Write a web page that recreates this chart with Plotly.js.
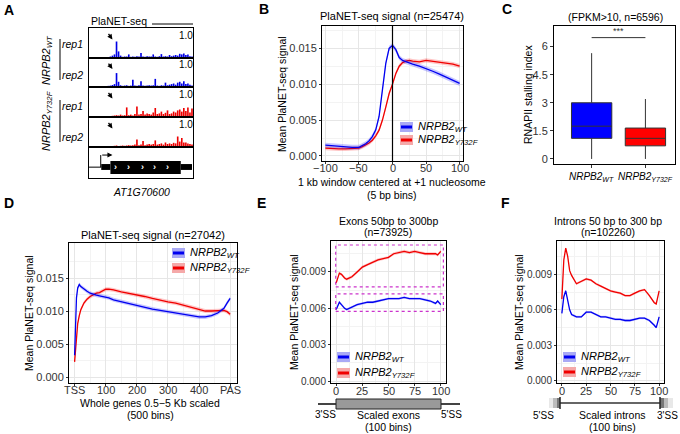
<!DOCTYPE html>
<html>
<head>
<meta charset="utf-8">
<script src="https://cdn.plot.ly/plotly-3.0.1.min.js"></script>
<style>html,body{margin:0;padding:0;background:#fff}#fig{width:680px;height:434px}</style>
</head>
<body>
<div id="fig"></div>
<script>
// ---- panel A: browser tracks (relative position along the locus, 0-100)
const trackPos = [0,2,4,6,8,10,12,14,16,18,20,22,24,26,28,30,32,34,36,38,40,42,44,46,48,50,52,54,56,58,60,62,64,66,68,70,72,74,76,78,80,82,84,86,88,90,92,94,96,98,100];
const wtRep1 = [0.01,0.01,0.01,0.01,0.02,0.02,0.02,0.02,0.03,0.03, 0.05,0.08,0.12,0.55,0.22,0.08,0.04,0.05,0.05,0.12, 0.04,0.05,0.04,0.06,0.05,0.17,0.05,0.04,0.06,0.05, 0.05,0.12,0.05,0.04,0.06,0.13,0.05,0.06,0.05,0.10, 0.06,0.08,0.10,0.08,0.14,0.12,0.15,0.10,0.12,0.06, 0.05];
const wtRep2 = [0.01,0.01,0.01,0.01,0.02,0.02,0.02,0.03,0.03,0.04, 0.05,0.07,0.10,0.48,0.18,0.06,0.04,0.05,0.06,0.04, 0.05,0.25,0.05,0.04,0.06,0.20,0.05,0.04,0.05,0.06, 0.05,0.06,0.28,0.05,0.04,0.06,0.05,0.15,0.06,0.08, 0.10,0.12,0.08,0.15,0.18,0.12,0.20,0.10,0.12,0.08, 0.05];
const mutRep1 = [0.02,0.02,0.02,0.02,0.02,0.02,0.02,0.02,0.02,0.03, 0.03,0.04,0.05,0.06,0.05,0.08,0.05,0.06,0.32,0.06, 0.08,0.05,0.10,0.35,0.08,0.10,0.20,0.08,0.12,0.10, 0.08,0.15,0.30,0.10,0.12,0.18,0.10,0.14,0.22,0.10, 0.12,0.18,0.15,0.22,0.25,0.18,0.30,0.20,0.32,0.15, 0.28];
const mutRep2 = [0.02,0.02,0.02,0.02,0.02,0.02,0.02,0.02,0.02,0.02, 0.03,0.03,0.04,0.05,0.03,0.04,0.05,0.04,0.05,0.06, 0.05,0.06,0.08,0.25,0.06,0.08,0.20,0.06,0.08,0.10, 0.08,0.10,0.22,0.08,0.10,0.12,0.08,0.15,0.10,0.12, 0.10,0.14,0.12,0.35,0.18,0.30,0.15,0.15,0.12,0.10, 0.08];
const geneUtr5 = [11, 20];
const geneCds = [20, 89];
const geneUtr3 = [89, 100];
const geneTss = 10.5;
const chevrons = [25, 37.5, 51, 63.5, 76];

// ---- panel B: +1 nucleosome window
const binsB = [-100,-90,-80,-70,-60,-50,-45,-40,-35,-30,-25,-20,-15,-10,-5,0,5,10,15,20,25,30,40,50,60,70,80,90,100];
const wtB = [0.0015,0.0014,0.0013,0.0012,0.0012,0.0012,0.0014,0.0017,0.0021,0.0027,0.0036,0.0055,0.0092,0.0129,0.0150,0.0154,0.0148,0.0137,0.0133,0.0131,0.0130,0.0128,0.0125,0.0122,0.0118,0.0114,0.0110,0.0105,0.0101];
const mutB = [0.0011,0.0010,0.0010,0.0010,0.0011,0.0011,0.0013,0.0015,0.0018,0.0022,0.0028,0.0036,0.0050,0.0068,0.0087,0.0100,0.0115,0.0125,0.0130,0.0132,0.0133,0.0132,0.0131,0.0133,0.0132,0.0131,0.0130,0.0128,0.0125];
const ticksB = [-100, -50, 0, 50, 100];
const tickTextB = ["\u2212100", "\u221250", "0", "50", "100"];

// ---- panel C: stalling index boxes
const boxGroups = ["WT", "Y732F"];
const boxQ1 = [1.1, 0.7];
const boxMed = [1.75, 1.1];
const boxQ3 = [3.0, 1.65];
const boxLo = [0, 0];
const boxHi = [5.65, 3.2];

// ---- panel D: whole genes, 500 bins
const binsD = [0,3,6,10,15,20,30,40,50,60,70,80,90,100,110,125,150,175,200,225,250,275,300,325,350,375,400,420,440,460,480,490,500];
const wtD = [0.0033,0.0090,0.0120,0.0135,0.0140,0.0137,0.0133,0.0130,0.0127,0.0125,0.0124,0.0123,0.0122,0.0121,0.0120,0.0117,0.0114,0.0112,0.0109,0.0106,0.0103,0.0101,0.0099,0.0097,0.0095,0.0093,0.0091,0.0091,0.0093,0.0097,0.0104,0.0112,0.0119];
const mutD = [0.0023,0.0045,0.0062,0.0081,0.0093,0.0102,0.0112,0.0118,0.0122,0.0125,0.0127,0.0128,0.0130,0.0133,0.0133,0.0132,0.0129,0.0127,0.0124,0.0122,0.0119,0.0116,0.0114,0.0112,0.0109,0.0106,0.0103,0.0100,0.0100,0.0100,0.0101,0.0099,0.0095];
const ticksD = [0, 100, 200, 300, 400, 500];
const tickTextD = ["TSS", "100", "200", "300", "400", "PAS"];

// ---- panel E: exons
const binsE = [0,3,5,8,10,15,20,25,30,35,40,45,50,55,60,65,70,75,80,85,90,95,97,100];
const wtE = [0.0059,0.0065,0.0063,0.0060,0.0059,0.0061,0.0063,0.0064,0.0065,0.0065,0.0066,0.0067,0.0068,0.0068,0.0068,0.0069,0.0068,0.0068,0.0068,0.0067,0.0066,0.0064,0.0066,0.0063];
const mutE = [0.0081,0.0089,0.0088,0.0085,0.0084,0.0086,0.0090,0.0094,0.0096,0.0098,0.0100,0.0101,0.0102,0.0105,0.0106,0.0107,0.0106,0.0107,0.0106,0.0105,0.0105,0.0105,0.0104,0.0107];

// ---- panel F: introns
const binsF = [0,2,4,6,8,10,15,20,25,30,35,40,45,50,55,60,65,70,75,80,85,90,95,97,100];
const wtF = [0.0057,0.0071,0.0076,0.0069,0.0060,0.0056,0.0054,0.0054,0.0058,0.0058,0.0056,0.0054,0.0054,0.0053,0.0052,0.0052,0.0051,0.0051,0.0052,0.0053,0.0053,0.0051,0.0047,0.0045,0.0054];
const mutF = [0.0069,0.0102,0.0112,0.0105,0.0093,0.0089,0.0082,0.0084,0.0086,0.0085,0.0082,0.0080,0.0078,0.0076,0.0075,0.0074,0.0072,0.0072,0.0074,0.0076,0.0077,0.0072,0.0066,0.0065,0.0076];
const ticksEF = [0, 25, 50, 75, 100];

const W = 680, H = 434;
const px = (x) => x / W;
const py = (y) => 1 - y / H;
const FONT = "Liberation Sans, Arial, sans-serif";
const BLUE = "#0000f0", RED = "#f00000";
const BLUE_F = "rgba(0,0,255,0.22)", RED_F = "rgba(255,0,0,0.22)";
const wtLab = "<i>NRPB2</i><sub><i>WT</i></sub>";
const mutLab = "<i>NRPB2</i><sub><i>Y732F</i></sub>";

const traces = [];
function ribbon(xs, ys, se, color, fill, n) {
  const xa = "x" + n, ya = "y" + n;
  traces.push({type: "scatter", x: xs, y: ys.map((v) => v + se), xaxis: xa, yaxis: ya, mode: "lines", line: {width: 0}, hoverinfo: "skip"});
  traces.push({type: "scatter", x: xs, y: ys.map((v) => v - se), xaxis: xa, yaxis: ya, mode: "lines", line: {width: 0}, fill: "tonexty", fillcolor: fill, hoverinfo: "skip"});
  traces.push({type: "scatter", x: xs, y: ys, xaxis: xa, yaxis: ya, mode: "lines", line: {color: color, width: 1.3}});
}
ribbon(binsB, mutB, 0.0003, RED, RED_F, 1);
ribbon(binsB, wtB, 0.00035, BLUE, BLUE_F, 1);
ribbon(binsD, mutD, 0.0003, RED, RED_F, 3);
ribbon(binsD, wtD, 0.0003, BLUE, BLUE_F, 3);
ribbon(binsE, mutE, 0.00012, RED, RED_F, 4);
ribbon(binsE, wtE, 0.0001, BLUE, BLUE_F, 4);
ribbon(binsF, mutF, 0.0001, RED, RED_F, 5);
ribbon(binsF, wtF, 0.0001, BLUE, BLUE_F, 5);

[0, 1].forEach((i) => {
  traces.push({
    type: "box", x: [boxGroups[i]], q1: [boxQ1[i]], median: [boxMed[i]], q3: [boxQ3[i]],
    lowerfence: [boxLo[i]], upperfence: [boxHi[i]], xaxis: "x2", yaxis: "y2",
    fillcolor: i === 0 ? "#0000ff" : "#ff0000", line: {color: "#333", width: 1},
    whiskerwidth: 0, width: 0.75, boxpoints: false, hoverinfo: "skip",
  });
});

[wtRep1, wtRep2, mutRep1, mutRep2].forEach((vals, i) => {
  traces.push({
    type: "bar", x: trackPos, y: vals, xaxis: "x" + (6 + i), yaxis: "y" + (6 + i),
    marker: {color: i < 2 ? "#0000e6" : "#ee0000", line: {width: 0}}, width: 1.6, hoverinfo: "skip",
  });
});

const grid = "#e6e6e6", minorGrid = "#f3f3f3";
function lineAxis(x0, x1, range, tickvals, ticktext, minorvals, anchor) {
  return {
    domain: [px(x0), px(x1)], range: range, anchor: anchor,
    showline: true, mirror: true, linecolor: "#000", linewidth: 1,
    showgrid: true, gridcolor: grid, gridwidth: 1, zeroline: false,
    ticks: "outside", ticklen: 2, tickcolor: "#333", tickangle: 0,
    tickvals: tickvals, ticktext: ticktext, showticklabels: false,
    tickfont: {family: FONT, size: 11, color: "#333"},
    minor: {tickvals: minorvals, showgrid: true, gridcolor: minorGrid, ticks: ""},
  };
}
function yAxis(y0, y1, range, tickvals, ticktext, minorvals, anchor, size) {
  const a = lineAxis(0, 1, range, tickvals, ticktext, minorvals, anchor);
  a.domain = [py(y1), py(y0)];
  a.showticklabels = true;
  a.tickfont = {family: FONT, size: size || 11, color: "#333"};
  return a;
}

const layout = {
  width: W, height: H, margin: {l: 0, r: 0, t: 0, b: 0},
  paper_bgcolor: "#fff", plot_bgcolor: "#fff", showlegend: false,
  font: {family: FONT, color: "#000"},
  xaxis: lineAxis(322, 463, [-105, 105], ticksB, null, [-75, -25, 25, 75], "y"),
  yaxis: yAxis(26, 161, [-0.0007, 0.0181], [0, 0.005, 0.01, 0.015], ["0.000", "0.005", "0.010", "0.015"], [0.0025, 0.0075, 0.0125, 0.0175], "x"),
  xaxis2: {domain: [px(554), px(675)], anchor: "y2", type: "category", categoryarray: boxGroups, range: [-0.7, 1.55],
    tickvals: boxGroups, showticklabels: false, showline: true, mirror: true, linecolor: "#000", linewidth: 1,
    showgrid: false, zeroline: false, ticks: "outside", ticklen: 3, tickcolor: "#333"},
  yaxis2: {domain: [py(164), py(26)], anchor: "x2", range: [-0.27, 7.1], tickvals: [0, 1.5, 3, 4.5, 6], ticktext: ["0", "1.5", "3", "4.5", "6"],
    showline: true, mirror: true, linecolor: "#000", linewidth: 1, showgrid: false, zeroline: false,
    ticks: "outside", ticklen: 3, tickcolor: "#333", tickfont: {family: FONT, size: 11, color: "#333"}},
  xaxis3: lineAxis(69, 237, [-18, 522], ticksD, null, [50, 150, 250, 350, 450], "y3"),
  yaxis3: yAxis(243, 383, [-0.0009, 0.0203], [0, 0.005, 0.01, 0.015], ["0.000", "0.005", "0.010", "0.015"], [0.0025, 0.0075, 0.0125, 0.0175], "x3"),
  xaxis4: lineAxis(331, 446, [-5, 105], ticksEF, null, [12.5, 37.5, 62.5, 87.5], "y4"),
  yaxis4: yAxis(241, 383, [-0.00016, 0.01155], [0, 0.003, 0.006, 0.009], ["0.000", "0.003", "0.006", "0.009"], [0.0015, 0.0045, 0.0075, 0.0105], "x4", 10),
  xaxis5: lineAxis(557, 664, [-5, 105], ticksEF, null, [12.5, 37.5, 62.5, 87.5], "y5"),
  yaxis5: yAxis(241, 383, [-0.00017, 0.0118], [0, 0.003, 0.006, 0.009], ["0.000", "0.003", "0.006", "0.009"], [0.0015, 0.0045, 0.0075, 0.0105], "x5", 10),
};

// panel A track axes
const trackEdges = [28, 58, 87, 117, 147, 178];
for (let i = 0; i < 5; i++) {
  const n = 6 + i;
  layout["xaxis" + n] = {domain: [px(89), px(193)], anchor: "y" + n, range: [-1, 101], showline: true, mirror: true,
    linecolor: "#000", linewidth: 1, showgrid: false, zeroline: false, showticklabels: false, ticks: ""};
  layout["yaxis" + n] = {domain: [py(trackEdges[i + 1]), py(trackEdges[i])], anchor: "x" + n, range: [0, 1],
    showline: true, mirror: true, linecolor: "#000", linewidth: 1, showgrid: false, zeroline: false, showticklabels: false, ticks: ""};
}

const shapes = [];
const ann = [];
function T(x, y, text, o) {
  ann.push(Object.assign({xref: "paper", yref: "paper", x: px(x), y: py(y), text: text, showarrow: false,
    xanchor: "center", yanchor: "middle", font: {family: FONT, size: 10.5, color: "#000"}}, o || {}));
}
function L(x0, y0, x1, y1, color, width, dash) {
  shapes.push({type: "line", xref: "paper", yref: "paper", x0: px(x0), y0: py(y0), x1: px(x1), y1: py(y1),
    line: {color: color, width: width, dash: dash || "solid"}});
}
function R(x0, y0, x1, y1, fill, lineColor, lw) {
  shapes.push({type: "rect", xref: "paper", yref: "paper", x0: px(x0), y0: py(y1), x1: px(x1), y1: py(y0),
    fillcolor: fill, line: {color: lineColor || fill, width: lw || 0}});
}
function key(x, y, color, fill, label) {
  R(x, y - 5, x + 13, y + 5, fill);
  L(x + 1, y, x + 12, y, color, 3);
  T(x + 16, y, label, {xanchor: "left", font: {family: FONT, size: 11, color: "#000"}});
}
// x tick labels placed on the axis values, close under the frame
function xLabels(axis, vals, texts, y, font) {
  vals.forEach((v, i) => ann.push({xref: axis, yref: "paper", x: v, y: py(y), text: texts[i], showarrow: false,
    xanchor: "center", yanchor: "middle", font: font || {family: FONT, size: 11, color: "#333"}}));
}

// panel letters
const letter = {family: "Liberation Sans, Arial, sans-serif", size: 14, color: "#000"};
T(9, 10, "<b>A</b>", {font: letter});
T(264, 9, "<b>B</b>", {font: letter});
T(507, 9, "<b>C</b>", {font: letter});
T(9, 203, "<b>D</b>", {font: letter});
T(261, 203, "<b>E</b>", {font: letter});
T(505, 203, "<b>F</b>", {font: letter});

// ---- panel A decorations
T(89, 21, "PlaNET-seq", {xanchor: "left", font: {family: FONT, size: 10.5}});
L(152, 24, 193, 24, "#000", 1);
[36, 65, 94, 124].forEach((y) => T(186, y, "1.0", {font: {family: FONT, size: 10, color: "#000"}}));
[44, 75, 106, 137].forEach((y, i) => T(72, y, i % 2 === 0 ? "<i>rep1</i>" : "<i>rep2</i>", {font: {family: FONT, size: 10.5}}));
L(60, 39, 60, 80, "#000", 1);
L(60, 100, 60, 142, "#000", 1);
T(47, 60, "<i>NRPB2</i><sub><i>WT</i></sub>", {textangle: -90, font: {family: FONT, size: 11}});
T(47, 121, "<i>NRPB2</i><sub><i>Y732F</i></sub>", {textangle: -90, font: {family: FONT, size: 11}});
[0, 1, 2, 3].forEach((i) => {
  ann.push({xref: "x" + (6 + i), yref: "y" + (6 + i), x: 22, y: 0.62, ax: -5, ay: -7, text: "", showarrow: true,
    arrowhead: 2, arrowsize: 0.8, arrowwidth: 1.3, arrowcolor: "#000"});
});
// gene model on axis 10
shapes.push({type: "line", xref: "x10", yref: "y10", x0: -1, x1: geneUtr5[0], y0: 0.35, y1: 0.35, line: {color: "#000", width: 1}});
shapes.push({type: "line", xref: "x10", yref: "y10", x0: geneTss, x1: geneTss, y0: 0.35, y1: 0.74, line: {color: "#000", width: 1}});
ann.push({xref: "x10", yref: "y10", x: 22, y: 0.74, axref: "x10", ayref: "y10", ax: geneTss, ay: 0.74, text: "",
  showarrow: true, arrowhead: 2, arrowsize: 1, arrowwidth: 1, arrowcolor: "#000"});
[geneUtr5, geneUtr3].forEach((p) => shapes.push({type: "rect", xref: "x10", yref: "y10", x0: p[0], x1: p[1], y0: 0.26, y1: 0.45, fillcolor: "#000", line: {width: 0}}));
shapes.push({type: "rect", xref: "x10", yref: "y10", x0: geneCds[0], x1: geneCds[1], y0: 0.13, y1: 0.55, fillcolor: "#000", line: {width: 0}});
chevrons.forEach((c) => ann.push({xref: "x10", yref: "y10", x: c, y: 0.36, text: "<b>\u203a</b>", showarrow: false,
  font: {family: FONT, size: 9, color: "#fff"}}));
T(141, 192, "<i>AT1G70600</i>", {font: {family: FONT, size: 10.5}});

// ---- panel B decorations
shapes.push({type: "line", xref: "x", yref: "y domain", x0: 0, x1: 0, y0: 0, y1: 1, line: {color: "#000", width: 1.2}});
xLabels("x", ticksB, tickTextB, 168);
T(392, 16, "PlaNET-seq signal (n=25474)", {font: {family: FONT, size: 11}});
T(282, 94, "Mean PlaNET-seq signal", {textangle: -90, font: {family: FONT, size: 10.5}});
T(392, 182, "1 kb window centered at +1 nucleosome", {font: {family: FONT, size: 10.5}});
T(392, 195, "(5 bp bins)", {font: {family: FONT, size: 10.5}});
key(400, 127, BLUE, "#a9a9f5", wtLab);
key(400, 140, RED, "#f5a9a9", mutLab);

// ---- panel C decorations
xLabels("x2", boxGroups, [wtLab, mutLab], 177, {family: FONT, size: 10, color: "#000"});
T(615, 17, "(FPKM>10, n=6596)", {font: {family: FONT, size: 10.5}});
T(528, 95, "RNAPII stalling index", {textangle: -90, font: {family: FONT, size: 10.5}});
shapes.push({type: "line", xref: "x2", yref: "y2", x0: 0, x1: 1, y0: 6.48, y1: 6.48, line: {color: "#333", width: 1}});
ann.push({xref: "x2", yref: "y2", x: 0.5, y: 6.82, text: "***", showarrow: false, font: {family: FONT, size: 9, color: "#333"}});

// ---- panel D decorations
xLabels("x3", ticksD, tickTextD, 390);
T(153, 235, "PlaNET-seq signal (n=27042)", {font: {family: FONT, size: 11}});
T(29, 313, "Mean PlaNET-seq signal", {textangle: -90, font: {family: FONT, size: 10.5}});
T(150, 403, "Whole genes 0.5\u22125 Kb scaled", {font: {family: FONT, size: 10.5}});
T(150, 415, "(500 bins)", {font: {family: FONT, size: 10.5}});
key(172, 253, BLUE, "#a9a9f5", wtLab);
key(172, 268, RED, "#f5a9a9", mutLab);

// ---- panel E decorations
xLabels("x4", ticksEF, ticksEF.map(String), 391);
T(388, 221, "Exons 50bp to 300bp", {font: {family: FONT, size: 10.5}});
T(388, 232, "(n=73925)", {font: {family: FONT, size: 10.5}});
T(294, 312, "Mean PlaNET-seq signal", {textangle: -90, font: {family: FONT, size: 10.5}});
shapes.push({type: "rect", xref: "x4", yref: "y4", x0: -0.5, x1: 102.5, y0: 0.00777, y1: 0.01122, line: {color: "#cc33cc", width: 1.2, dash: "dot"}});
shapes.push({type: "rect", xref: "x4", yref: "y4", x0: -0.5, x1: 102.5, y0: 0.00575, y1: 0.00719, line: {color: "#cc33cc", width: 1.2, dash: "dot"}});
key(337, 357, BLUE, "#a9a9f5", wtLab);
key(337, 373, RED, "#f5a9a9", mutLab);
L(318, 404, 337, 404, "#444", 2);
L(440, 404, 460, 404, "#444", 2);
R(336, 399, 441, 409, "#999", "#222", 1);
T(325, 414, "3'SS", {font: {family: FONT, size: 10}});
T(451, 414, "5'SS", {font: {family: FONT, size: 10}});
T(388, 415, "Scaled exons", {font: {family: FONT, size: 10.5}});
T(388, 427, "(100 bins)", {font: {family: FONT, size: 10.5}});

// ---- panel F decorations
xLabels("x5", ticksEF, ticksEF.map(String), 391);
T(608, 221, "Introns 50 bp to 300 bp", {font: {family: FONT, size: 10.5}});
T(608, 232, "(n=102260)", {font: {family: FONT, size: 10.5}});
T(519, 312, "Mean PlaNET-seq signal", {textangle: -90, font: {family: FONT, size: 10.5}});
key(563, 357, BLUE, "#a9a9f5", wtLab);
key(563, 372, RED, "#f5a9a9", mutLab);
L(560, 403, 660, 403, "#333", 1.5);
R(549, 398, 553, 408, "#e8e8e8");
R(553, 398, 557, 408, "#bbbbbb");
R(557, 398, 560, 408, "#777777");
L(560, 397, 560, 409, "#222", 1.5);
R(660, 398, 664, 408, "#777777");
R(664, 398, 668, 408, "#bbbbbb");
R(668, 398, 673, 408, "#e8e8e8");
L(660, 397, 660, 409, "#222", 1.5);
T(543, 415, "5'SS", {font: {family: FONT, size: 10}});
T(667, 415, "3'SS", {font: {family: FONT, size: 10}});
T(612, 415, "Scaled introns", {font: {family: FONT, size: 10.5}});
T(612, 427, "(100 bins)", {font: {family: FONT, size: 10.5}});

layout.shapes = shapes;
layout.annotations = ann;

Plotly.newPlot("fig", traces, layout, {staticPlot: true, displayModeBar: false});
</script>
</body>
</html>
